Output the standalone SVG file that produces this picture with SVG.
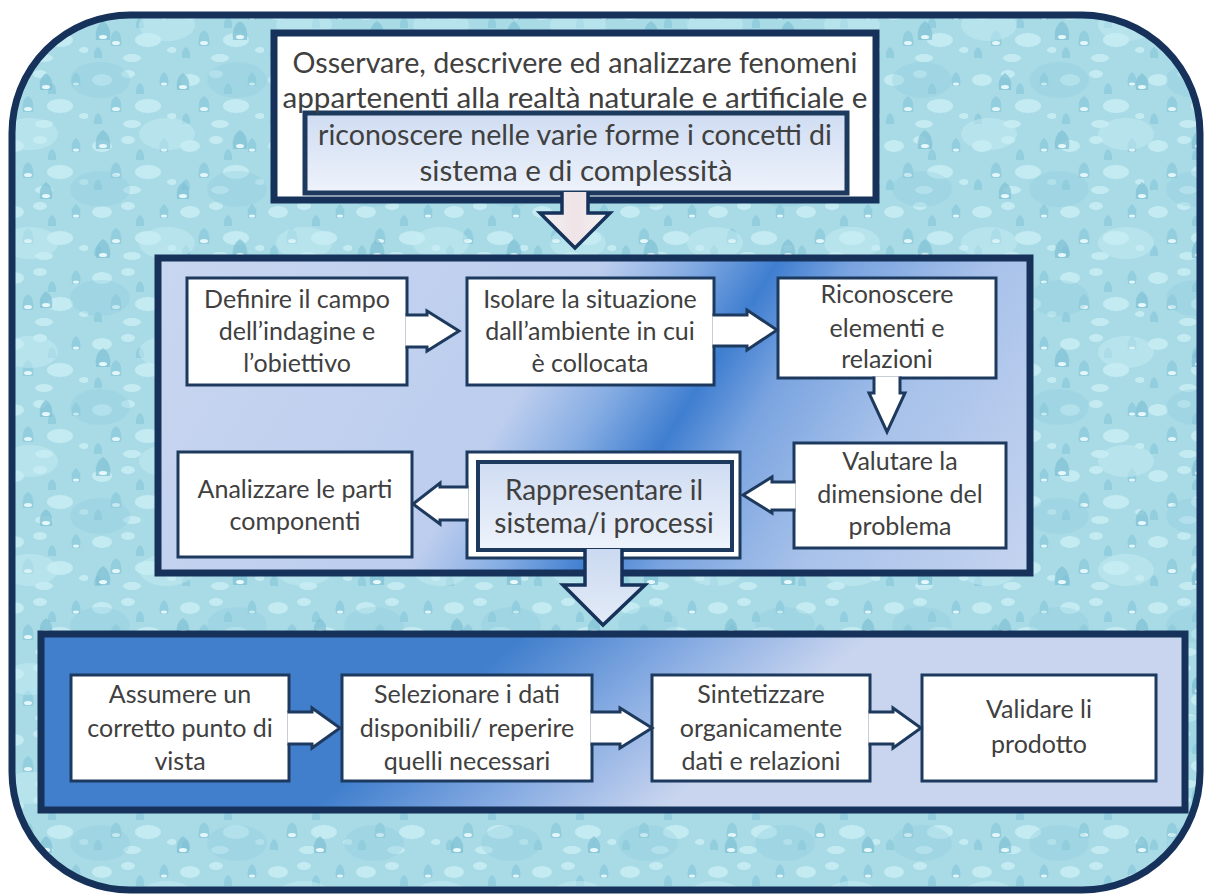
<svg xmlns="http://www.w3.org/2000/svg" width="1206" height="895" viewBox="0 0 1206 895">
<defs>
<style>
.t{font-family:"Lato","Liberation Sans",sans-serif;fill:#404040;text-anchor:middle}
.big{font-size:28px}
.m{font-size:25px}
.r{font-size:28px}
.box{fill:#ffffff;stroke:#1d3a5e;stroke-width:3}
.panel{stroke:#16325a;stroke-width:7}
.arr{fill:#ffffff;stroke:#1d3a5e;stroke-width:3;stroke-linejoin:miter}
.dk{fill:#93cede}
.lt{fill:#c4ebf2}
.hl{fill:#e2f6fa}
</style>
<pattern id="drops" width="88" height="66" patternUnits="userSpaceOnUse">
<rect width="88" height="66" fill="#a9dbe6"/>
<ellipse class="lt" cx="14" cy="14" rx="10" ry="6"/>
<ellipse class="lt" cx="60" cy="40" rx="13" ry="7"/>
<ellipse class="lt" cx="40" cy="8" rx="7" ry="4"/>
<path class="dk" d="M72,20 Q70,10 76,6 Q82,10 80,20 Z"/>
<path class="dk" d="M23,46 Q21,34 28,30 Q35,34 33,46 Z"/>
<path class="dk" d="M48,28 Q47,20 52,17 Q57,20 56,28 Z"/>
<path class="dk" d="M6,58 Q5,50 10,47 Q15,50 14,58 Z"/>
<ellipse class="hl" cx="76" cy="18" rx="3" ry="1.5"/>
<ellipse class="hl" cx="28" cy="43" rx="4" ry="2"/>
<ellipse class="lt" cx="44" cy="58" rx="9" ry="4"/>
<ellipse class="lt" cx="84" cy="50" rx="5" ry="3"/>
</pattern>
<pattern id="drops2" width="137" height="109" patternUnits="userSpaceOnUse">
<ellipse cx="30" cy="25" rx="28" ry="16" fill="#c9eef4" opacity="0.45"/>
<ellipse cx="100" cy="80" rx="30" ry="18" fill="#8fcadb" opacity="0.35"/>
<path d="M96,40 Q94,26 103,21 Q112,26 110,40 Z" fill="#7fc1d4" opacity="0.7"/>
<path d="M40,90 Q38,78 46,73 Q54,78 52,90 Z" fill="#7fc1d4" opacity="0.7"/>
<ellipse cx="103" cy="37" rx="4" ry="2" fill="#e6f8fb"/>
<ellipse cx="46" cy="87" rx="4" ry="2" fill="#e6f8fb"/>
</pattern>
<linearGradient id="gMid" gradientUnits="userSpaceOnUse" x1="229" y1="142" x2="998" y2="629">
<stop offset="0" stop-color="#c9d6f0"/>
<stop offset="0.42" stop-color="#bccdee"/>
<stop offset="0.5" stop-color="#86ade3"/>
<stop offset="0.58" stop-color="#3f7ed0"/>
<stop offset="0.65" stop-color="#7aa4e0"/>
<stop offset="0.78" stop-color="#a8c2ea"/>
<stop offset="1" stop-color="#c6d4f0"/>
</linearGradient>
<linearGradient id="gBot" gradientUnits="userSpaceOnUse" x1="520" y1="640" x2="660" y2="810">
<stop offset="0" stop-color="#417fcd"/>
<stop offset="0.5" stop-color="#86abe2"/>
<stop offset="1" stop-color="#c9d5ef"/>
</linearGradient>
<linearGradient id="gInner" x1="0" y1="0" x2="0" y2="1">
<stop offset="0" stop-color="#cfdcf2"/>
<stop offset="1" stop-color="#eef3fb"/>
</linearGradient>
<linearGradient id="gTopArr" x1="0" y1="0" x2="1" y2="0">
<stop offset="0" stop-color="#f3f1f4"/>
<stop offset="0.5" stop-color="#efe3e6"/>
<stop offset="1" stop-color="#f3f1f4"/>
</linearGradient>
<linearGradient id="gDownArr" x1="0" y1="0" x2="0" y2="1">
<stop offset="0" stop-color="#cbdaf1"/>
<stop offset="1" stop-color="#e3ebf7"/>
</linearGradient>
</defs>

<rect width="1206" height="895" fill="#ffffff"/>
<g id="background">
<rect x="12" y="15" width="1188" height="875" rx="118" ry="118" fill="url(#drops)"/>
<rect x="12" y="15" width="1188" height="875" rx="118" ry="118" fill="url(#drops2)" stroke="#16325a" stroke-width="7"/>
</g>

<g id="panel-top">
<rect x="274" y="33" width="602" height="167" fill="#ffffff" stroke="#16325a" stroke-width="7"/>
<rect x="305" y="113" width="542" height="80" fill="url(#gInner)" stroke="#1d3a5e" stroke-width="5"/>
<text class="t big" x="575" y="73" textLength="565" lengthAdjust="spacingAndGlyphs">Osservare, descrivere ed analizzare fenomeni</text>
<text class="t big" x="575" y="108" textLength="585" lengthAdjust="spacingAndGlyphs">appartenenti alla realtà naturale e artificiale e</text>
<text class="t big" x="575" y="145" textLength="514" lengthAdjust="spacingAndGlyphs">riconoscere nelle varie forme i concetti di</text>
<text class="t big" x="576" y="181" textLength="313" lengthAdjust="spacingAndGlyphs">sistema e di complessità</text>
</g>

<g id="panel-middle">
<rect class="panel" x="158" y="258" width="872" height="315" fill="url(#gMid)"/>
</g>

<g id="panel-bottom">
<rect class="panel" x="41" y="634" width="1144" height="176" fill="url(#gBot)"/>
</g>

<g id="node-definire">
<rect class="box" x="187" y="278" width="220" height="107"/>
<text class="t m" x="297" y="308">Definire il campo</text>
<text class="t m" x="297" y="340">dell’indagine e</text>
<text class="t m" x="297" y="372">l’obiettivo</text>
</g>
<g id="node-isolare">
<rect class="box" x="467" y="278" width="247" height="107"/>
<text class="t m" x="590" y="308">Isolare la situazione</text>
<text class="t m" x="590" y="340">dall’ambiente in cui</text>
<text class="t m" x="590" y="372">è collocata</text>
</g>
<g id="node-riconoscere">
<rect class="box" x="778" y="278" width="218" height="100"/>
<text class="t m" x="887" y="303">Riconoscere</text>
<text class="t m" x="887" y="337">elementi e</text>
<text class="t m" x="887" y="368">relazioni</text>
</g>
<g id="node-valutare">
<rect class="box" x="794" y="443" width="212" height="105"/>
<text class="t m" x="900" y="470">Valutare la</text>
<text class="t m" x="900" y="503">dimensione del</text>
<text class="t m" x="900" y="535">problema</text>
</g>
<g id="node-rappresentare">
<rect class="box" x="467" y="452" width="273" height="106"/>
<rect x="478" y="462" width="254" height="88" fill="url(#gInner)" stroke="#1d3a5e" stroke-width="4"/>
<text class="t r" x="604" y="500">Rappresentare il</text>
<text class="t r" x="604" y="533">sistema/i processi</text>
</g>
<g id="node-analizzare">
<rect class="box" x="178" y="452" width="234" height="105"/>
<text class="t m" x="295" y="498">Analizzare le parti</text>
<text class="t m" x="295" y="530">componenti</text>
</g>

<g id="node-assumere">
<rect class="box" x="71" y="675" width="218" height="106"/>
<text class="t m" x="180" y="703">Assumere un</text>
<text class="t m" x="180" y="737">corretto punto di</text>
<text class="t m" x="180" y="770">vista</text>
</g>
<g id="node-selezionare">
<rect class="box" x="342" y="675" width="250" height="106"/>
<text class="t m" x="467" y="703">Selezionare i dati</text>
<text class="t m" x="467" y="737">disponibili/ reperire</text>
<text class="t m" x="467" y="770">quelli necessari</text>
</g>
<g id="node-sintetizzare">
<rect class="box" x="652" y="675" width="218" height="106"/>
<text class="t m" x="761" y="703">Sintetizzare</text>
<text class="t m" x="761" y="737">organicamente</text>
<text class="t m" x="761" y="770">dati e relazioni</text>
</g>
<g id="node-validare">
<rect class="box" x="922" y="675" width="234" height="106"/>
<text class="t m" x="1039" y="718">Validare li</text>
<text class="t m" x="1039" y="753">prodotto</text>
</g>

<g id="connectors">
<path d="M562,192 V213 H540 L575,248 L610,213 H588 V192" fill="url(#gTopArr)" stroke="#16325a" stroke-width="3.5"/>
<path class="arr" d="M405.5,315 H427 V311 L459,331 L427,351 V347 H405.5"/>
<path class="arr" d="M712.5,315 H747 V310 L777,330 L747,350 V346 H712.5"/>
<path class="arr" d="M874,376.5 V393 H869 L887,432 L905,393 H900 V376.5"/>
<path class="arr" d="M795.5,482 H772 V477 L743,495 L772,513 V510 H795.5"/>
<path class="arr" d="M468.5,487 H440 V483 L413,504 L440,524 V520 H468.5"/>
<path d="M585,549 V585 H563 L603,625 L645,585 H622 V549" fill="url(#gDownArr)" stroke="#16325a" stroke-width="3.5"/>
<path class="arr" d="M287.5,712 H312 V708 L340,728 L312,748 V744 H287.5"/>
<path class="arr" d="M590.5,712 H620 V708 L652,728 L620,748 V744 H590.5"/>
<path class="arr" d="M868.5,712 H893 V708 L921,728 L893,748 V744 H868.5"/>
</g>
</svg>
